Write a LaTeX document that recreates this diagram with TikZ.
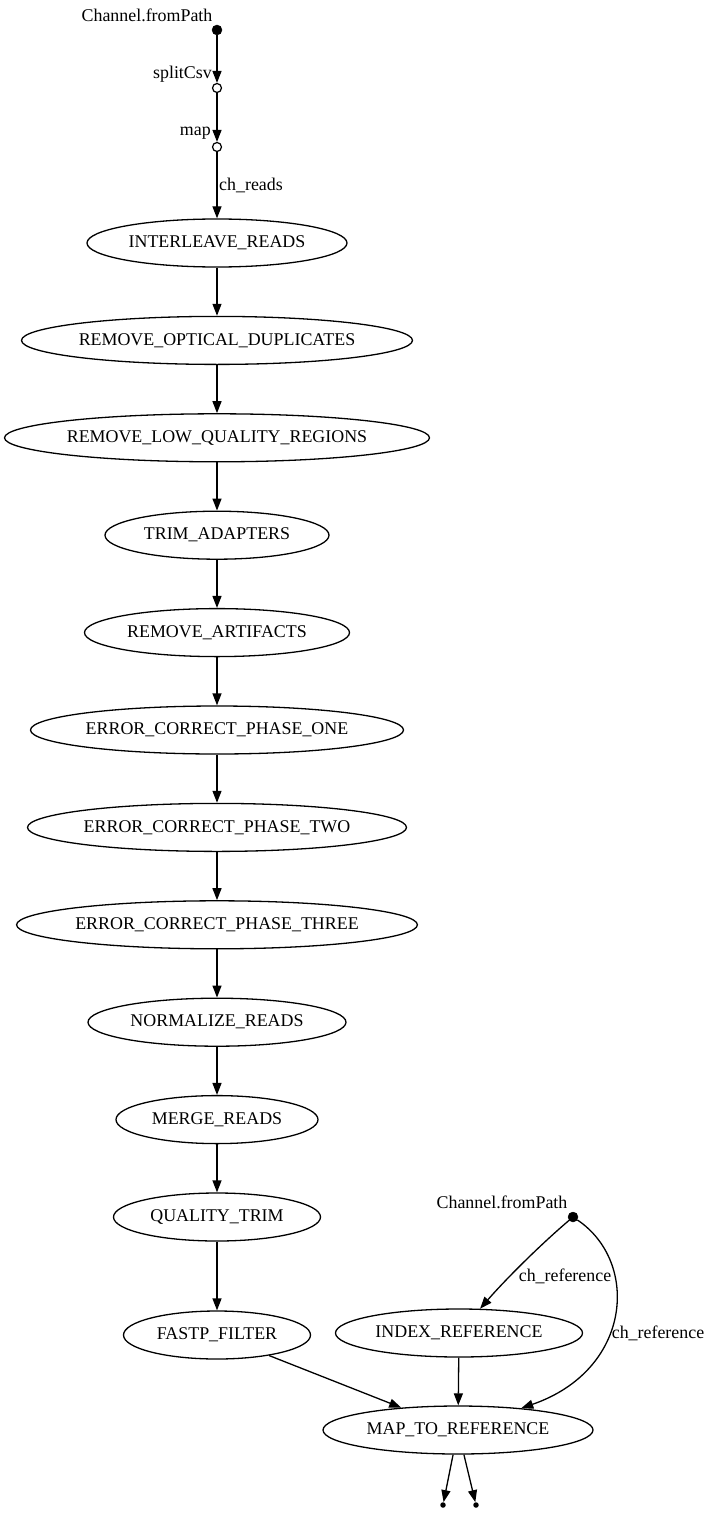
\documentclass[tikz,border=0pt]{standalone}
\usepackage{fontspec}
\setmainfont{Liberation Serif}
\usetikzlibrary{shapes.geometric,arrows.meta}
\tikzset{
	every node/.style={font=\fontsize{17.9}{21}\selectfont},
	proc/.style={draw,ellipse,line width=1.3pt,inner xsep=0pt,inner ysep=0pt,minimum height=48pt},
	src/.style={draw,circle,fill=black,inner sep=0pt,minimum size=10pt},
	op/.style={draw,circle,fill=white,line width=1.2pt,inner sep=0pt,minimum size=9pt},
	sink/.style={circle,fill=black,inner sep=0pt,minimum size=5.5pt},
	lbl/.style={inner sep=0pt},
	flow/.style={line width=1.3pt,-{Triangle[length=12pt,width=9pt]}}
}
\begin{document}
\begin{tikzpicture}[x=1pt,y=-1pt]
	\useasboundingbox (0,0) rectangle (711,1514);
	% input channel of the reads
	\node[src] (srcA) at (217,30) {};
	\node[lbl] (srcAlbl) at (147,15) {Channel.fromPath};
	\node[op] (split) at (217,88) {};
	\node[op] (mapop) at (217,147) {};
	\node[lbl,anchor=east] (splitlbl) at (212,74) {splitCsv};
	\node[lbl,anchor=east] (maplbl) at (211,133) {map};
	\node[lbl,anchor=west] (readslbl) at (219,185) {ch\_reads};
	% main chain of processes
	\foreach \n/\w [count=\i] in {INTERLEAVE\_READS/260,REMOVE\_OPTICAL\_DUPLICATES/391,REMOVE\_LOW\_QUALITY\_REGIONS/425,TRIM\_ADAPTERS/224,REMOVE\_ARTIFACTS/265,ERROR\_CORRECT\_PHASE\_ONE/373,ERROR\_CORRECT\_PHASE\_TWO/379,ERROR\_CORRECT\_PHASE\_THREE/398,NORMALIZE\_READS/258,MERGE\_READS/202,QUALITY\_TRIM/207} {
			\node[proc,minimum width=\w] (p\i) at (217,{243+97.4*(\i-1)}) {\n};
		}
	\node[proc,minimum width=187] (fastp) at (217,1335) {FASTP\_FILTER};
	% reference branch
	\node[src] (srcB) at (573,1217) {};
	\node[lbl] (srcBlbl) at (502,1202) {Channel.fromPath};
	\node[proc,minimum width=247] (index) at (459,1333) {INDEX\_REFERENCE};
	\node[proc,minimum width=270] (mapref) at (458,1430) {MAP\_TO\_REFERENCE};
	\node[sink] (outA) at (443,1505) {};
	\node[sink] (outB) at (476,1505) {};
	\draw[flow] (srcA) -- (split);
	\draw[flow] (split) -- (mapop);
	\draw[flow] (mapop) -- (p1);
	\foreach \i in {1,...,10} {
			\pgfmathtruncatemacro{\j}{\i+1}
			\draw[flow] (p\i) -- (p\j);
		}
	\draw[flow] (p11) -- (fastp);
	\draw[flow] (srcB) .. controls (540,1245) and (505,1280) .. (index);
	\node[lbl] (reflblA) at (565,1276) {ch\_reference};
	\draw[flow] (srcB) .. controls (640,1262) and (632,1370) .. (mapref);
	\node[lbl] (reflblB) at (658,1333) {ch\_reference};
	\draw[flow] (fastp) -- (mapref);
	\draw[flow] (index) -- (mapref);
	\draw[flow] (mapref) -- (outA);
	\draw[flow] (mapref) -- (outB);
\end{tikzpicture}
\end{document}
